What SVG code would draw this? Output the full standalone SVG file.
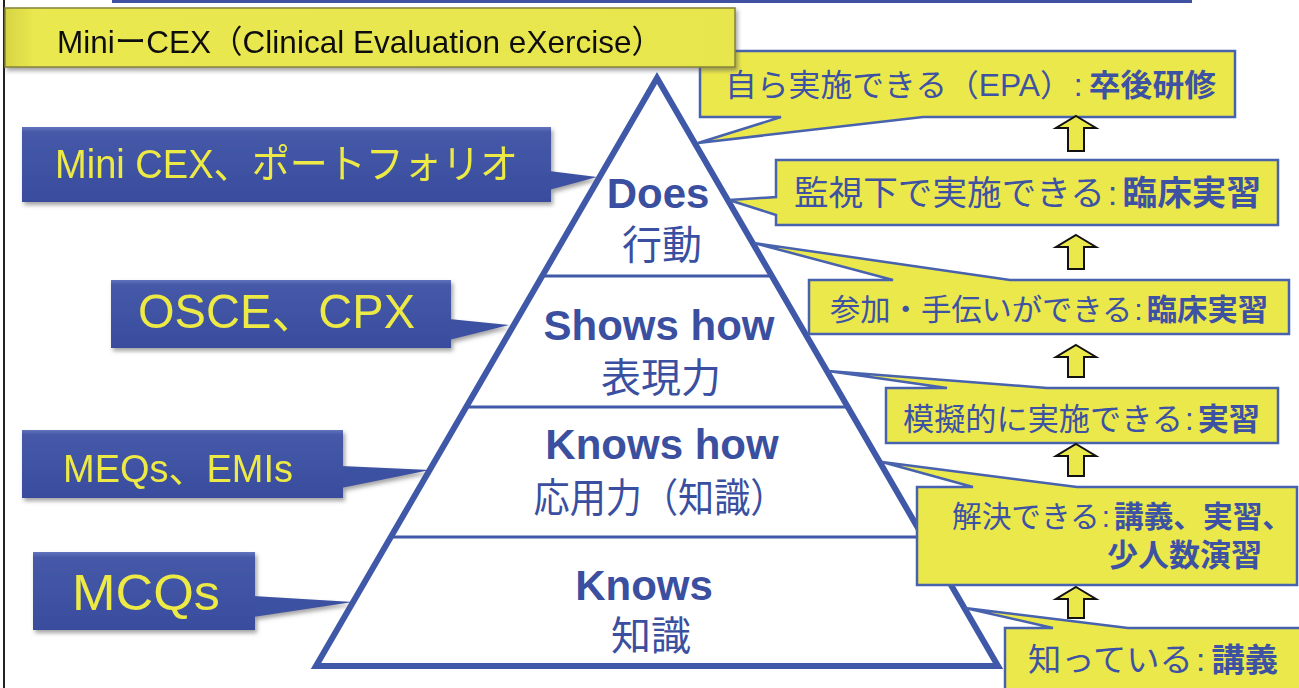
<svg xmlns="http://www.w3.org/2000/svg" width="1299" height="688" viewBox="0 0 1299 688">
<defs>
<style>
.pyr{fill:#fff;stroke:#3F58A8;stroke-width:6;stroke-linejoin:miter}
.div{stroke:#3F58A8;stroke-width:3}
.pen{font-family:"Liberation Sans",Arial,sans-serif;font-weight:bold;font-size:42px;fill:#3A4FA0;text-anchor:middle}
.pjp{font-family:"Noto Sans CJK JP","Noto Sans CJK SC",sans-serif;font-size:40px;fill:#3A4FA0;text-anchor:middle}
.bl{font-family:"Liberation Sans","Noto Sans CJK JP",sans-serif;fill:#EEEA45}
.co{fill:#EBE84B;stroke:#4862AE;stroke-width:2.5;stroke-linejoin:miter}
.ct{font-family:"Liberation Sans","Noto Sans CJK JP",sans-serif;fill:#3D52A3}
.b{font-weight:bold}
.arr{fill:#EBE84B;stroke:#111;stroke-width:2}
.bbox{fill:url(#bg)}
.btail{fill:#3D51A2}
</style>
<linearGradient id="bg" x1="0" y1="0" x2="0" y2="1">
<stop offset="0" stop-color="#6274BC"/>
<stop offset="0.07" stop-color="#4659A9"/>
<stop offset="1" stop-color="#394C9D"/>
</linearGradient>
<linearGradient id="yg" x1="0" y1="0" x2="1" y2="0">
<stop offset="0" stop-color="#D6D442"/>
<stop offset="0.04" stop-color="#EAE850"/>
<stop offset="1" stop-color="#E8E64E"/>
</linearGradient>
<filter id="sh" x="-5%" y="-15%" width="115%" height="140%">
<feDropShadow dx="2" dy="3" stdDeviation="2" flood-color="#555" flood-opacity="0.55"/>
</filter>
</defs>
<rect width="1299" height="688" fill="#fff"/>
<rect x="112" y="-2" width="1080" height="5" fill="#3F51A0"/>
<line x1="4" y1="0" x2="4" y2="688" stroke="#222" stroke-width="2"/>

<g id="pyramid">
<polygon class="pyr" points="657,78 998,666 316,666"/>
<line class="div" x1="542" y1="276" x2="772" y2="276"/>
<line class="div" x1="466" y1="407" x2="848" y2="407"/>
<line class="div" x1="391" y1="537" x2="923" y2="537"/>
<text class="pen" x="658" y="208" font-size="43">Does</text>
<text class="pjp" x="662" y="259">行動</text>
<text class="pen" x="659" y="340">Shows how</text>
<text class="pjp" x="661" y="392">表現力</text>
<text class="pen" x="662" y="459">Knows how</text>
<text class="pjp" x="660" y="512" font-size="36" textLength="253" lengthAdjust="spacingAndGlyphs">応用力（知識）</text>
<text class="pen" x="644" y="600">Knows</text>
<text class="pjp" x="651" y="650">知識</text>
</g>

<g id="box-minicex" filter="url(#sh)">
<polygon class="btail" points="549,171 597,177 549,190"/>
<rect class="bbox" x="22" y="127" width="529" height="75"/>
<text class="bl" x="55" y="178" font-size="40" textLength="463" lengthAdjust="spacingAndGlyphs">Mini CEX、ポートフォリオ</text>
</g>
<g id="box-osce" filter="url(#sh)">
<polygon class="btail" points="449,319 509,325 449,340"/>
<rect class="bbox" x="111" y="280" width="340" height="68"/>
<text class="bl" x="138" y="328" font-size="48" textLength="277" lengthAdjust="spacingAndGlyphs">OSCE、CPX</text>
</g>
<g id="box-meqs" filter="url(#sh)">
<polygon class="btail" points="341,466 430,470 341,488"/>
<rect class="bbox" x="22" y="430" width="321" height="68"/>
<text class="bl" x="63" y="482" font-size="38" textLength="230" lengthAdjust="spacingAndGlyphs">MEQs、EMIs</text>
</g>
<g id="box-mcqs" filter="url(#sh)">
<polygon class="btail" points="253,596 353,602 253,617"/>
<rect class="bbox" x="33" y="552" width="222" height="78"/>
<text class="bl" x="72" y="610" font-size="50" textLength="148" lengthAdjust="spacingAndGlyphs">MCQs</text>
</g>

<g id="callout-epa">
<path class="co" d="M700,51 H1235 V117 H923 L698,143 L781,117 H700 Z"/>
<text class="ct" x="725" y="96" font-size="31" textLength="491" lengthAdjust="spacingAndGlyphs">自ら実施できる（EPA）<tspan dx="2">:</tspan><tspan class="b" dx="6">卒後研修</tspan></text>
</g>
<g id="callout-kanshi">
<path class="co" d="M776,160 H1278 V225 H776 V215 L729,200 L776,197 Z"/>
<text class="ct" x="794" y="205" font-size="34" textLength="467" lengthAdjust="spacingAndGlyphs">監視下で実施できる<tspan dx="3">:</tspan><tspan class="b" dx="5">臨床実習</tspan></text>
</g>
<g id="callout-sanka">
<path class="co" d="M809,280 H893 L754,243 L1010,280 H1289 V334 H809 Z"/>
<text class="ct" x="830" y="320" font-size="30" textLength="438" lengthAdjust="spacingAndGlyphs">参加・手伝いができる<tspan dx="2">:</tspan><tspan class="b" dx="4">臨床実習</tspan></text>
</g>
<g id="callout-mogi">
<path class="co" d="M886,388 H947 L828,371 L1047,388 H1278 V443 H886 Z"/>
<text class="ct" x="903" y="430" font-size="31" textLength="357" lengthAdjust="spacingAndGlyphs">模擬的に実施できる<tspan dx="2">:</tspan><tspan class="b" dx="4">実習</tspan></text>
</g>
<g id="callout-kaiketsu">
<path class="co" d="M917,487 H973 L882,462 L1077,487 H1297 V585 H917 Z"/>
<text class="ct" x="952" y="527" font-size="30" textLength="340" lengthAdjust="spacingAndGlyphs">解決できる<tspan dx="2">:</tspan><tspan class="b" dx="4">講義、実習、</tspan></text>
<text class="ct b" x="1107" y="566" font-size="31">少人数演習</text>
</g>
<g id="callout-shitteiru">
<path class="co" d="M1005,692 V628 H1053 L965,608 L1128,628 H1303 V692 Z"/>
<text class="ct" x="1028" y="671" font-size="32" textLength="250" lengthAdjust="spacingAndGlyphs">知っている<tspan dx="3">:</tspan><tspan class="b" dx="6">講義</tspan></text>
</g>

<g id="title" filter="url(#sh)">
<rect x="5" y="8" width="730" height="59" fill="url(#yg)" stroke="#85833A" stroke-width="1.5"/>
<text x="57" y="53" font-family="'Liberation Sans','Noto Sans CJK JP',sans-serif" font-size="32" fill="#111" textLength="606" lengthAdjust="spacingAndGlyphs">MiniーCEX（Clinical Evaluation eXercise）</text>
</g>

<g id="connectors">
<path class="arr" d="M1076,116 L1096,128 H1084 V151 H1068 V128 H1056 Z"/>
<path class="arr" d="M1076,235 L1096,247 H1084 V269 H1068 V247 H1056 Z"/>
<path class="arr" d="M1076,345 L1096,357 H1084 V377 H1068 V357 H1056 Z"/>
<path class="arr" d="M1076,444 L1096,456 H1084 V476 H1068 V456 H1056 Z"/>
<path class="arr" d="M1076,587 L1096,599 H1084 V618 H1068 V599 H1056 Z"/>
</g>
</svg>
